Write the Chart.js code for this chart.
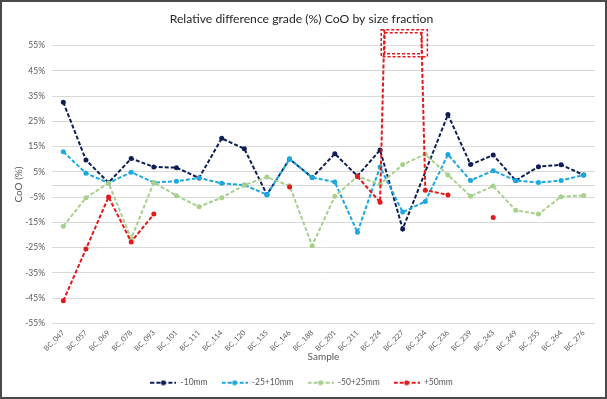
<!DOCTYPE html>
<html>
<head>
<meta charset="utf-8">
<script src="https://cdn.jsdelivr.net/npm/chart.js@4"></script>
<style>
  html, body { margin: 0; padding: 0; background: #fff; }
  #wrap { position: relative; width: 607px; height: 399px; }
  #frame {
    position: absolute; left: 0; top: 0; width: 607px; height: 399px;
    box-sizing: border-box; border: 2px solid #4a4a4a; pointer-events: none;
  }
</style>
</head>
<body>
<div id="wrap">
  <canvas id="grades" width="607" height="399"></canvas>
  <div id="frame"></div>
</div>
<script>
const samples = ['BC_047', 'BC_057', 'BC_069', 'BC_078', 'BC_093', 'BC_101', 'BC_111', 'BC_114',
  'BC_120', 'BC_135', 'BC_146', 'BC_188', 'BC_201', 'BC_211', 'BC_224', 'BC_227', 'BC_234',
  'BC_236', 'BC_239', 'BC_243', 'BC_249', 'BC_255', 'BC_264', 'BC_276'];

// BC_234 has no -10mm value (#N/A in the sheet), so the line just runs across it
const minus10 = [32.6, 9.7, 0.8, 10.3, 7.0, 6.7, 2.6, 18.3, 14.2, -4.0, 10.1, 2.8, 12.2, 3.4,
  13.7, -17.6, null, 27.7, 7.9, 11.7, 1.6, 7.1, 7.8, 3.8];
const minus25plus10 = [13.0, 4.5, 0.6, 4.9, 0.8, 1.3, 2.6, 0.5, -0.2, -4.0, 10.1, 2.8, 1.0, -18.9,
  7.0, -10.9, -6.7, 11.9, 1.6, 5.5, 1.6, 0.8, 1.6, 3.8];
const minus50plus25 = [-16.5, -5.2, 0.6, -21.4, 0.8, -4.4, -8.8, -5.2, -0.2, 3.0, -0.5, -24.2, -4.6,
  3.2, 0.1, 7.9, 12.0, 3.8, -4.6, -0.6, -10.2, -11.7, -4.8, -4.3];
const plus50 = [-46.0, -25.5, -4.9, -22.7, -11.7, null, null, null, null, null, -1.0, null, null,
  3.2, -7.0, 350, -2.2, -4.1, null, -13.0, null, null, null, null];

const seriesNames = ['-10mm', '-25+10mm', '-50+25mm', '+50mm'];
const seriesColors = ['#0f1f55', '#1ba8e0', '#a8d08d', '#e3191c'];
const yTicks = [-55, -45, -35, -25, -15, -5, 5, 15, 25, 35, 45, 55];

const FONT = 'Lato, "Open Sans", sans-serif';

// little dashed line with a dot, for the legend
function legendMark(color) {
  const c = document.createElement('canvas');
  c.width = 26;
  c.height = 6;
  const g = c.getContext('2d');
  g.strokeStyle = color;
  g.lineWidth = 2;
  g.setLineDash([4, 2]);
  g.beginPath();
  g.moveTo(0, 3);
  g.lineTo(26, 3);
  g.stroke();
  g.fillStyle = color;
  g.beginPath();
  g.arc(13, 3, 2.5, 0, Math.PI * 2);
  g.fill();
  return c;
}

const zeroLine = {
  id: 'zeroLine',
  beforeDatasetsDraw(chart) {
    const { ctx, chartArea: { left, right }, scales: { y } } = chart;
    const y0 = Math.round(y.getPixelForValue(0)) + 0.5;
    ctx.save();
    ctx.strokeStyle = '#d9d9d9';
    ctx.lineWidth = 1;
    ctx.beginPath();
    ctx.moveTo(left, y0);
    ctx.lineTo(right, y0);
    ctx.stroke();
    ctx.restore();
  },
};

// the +50mm outlier runs off the top of the plot; excel leaves a dashed box there
const overflowBox = {
  id: 'overflowBox',
  afterDatasetsDraw(chart) {
    const { ctx, chartArea: { top } } = chart;
    const pts = chart.getDatasetMeta(3).data;
    const i = plus50.indexOf(Math.max(...plus50.filter((v) => v !== null)));
    const a = pts[i - 1];
    const b = pts[i];
    const c = pts[i + 1];
    const yBot = top + 10;
    const yTop = top - 16;
    const xAt = (p, q, yy) => p.x + ((q.x - p.x) * (p.y - yy)) / (p.y - q.y);
    const xl = xAt(a, b, yBot);
    const xr = xAt(c, b, yBot);
    ctx.save();
    ctx.strokeStyle = seriesColors[3];
    ctx.lineWidth = 1.5;
    ctx.setLineDash([3, 2]);
    ctx.strokeRect(xl - 2.5, yTop, xr - xl + 8, yBot - yTop + 1);
    ctx.strokeRect(xl + 1, yTop + 3, xr - xl - 1, yBot - yTop - 5);
    ctx.restore();
  },
};

// later series sit on top, like in excel
const datasets = [minus10, minus25plus10, minus50plus25, plus50].map((values, k) => ({
  label: seriesNames[k],
  data: values,
  borderColor: seriesColors[k],
  backgroundColor: seriesColors[k],
  borderWidth: 2,
  borderDash: [4, 2],
  pointRadius: 2.5,
  pointBorderWidth: 0,
  pointHoverRadius: 2.5,
  tension: 0,
  spanGaps: k === 0,
  clip: k === 3 ? { left: 0, top: 16, right: 0, bottom: 0 } : 2,
  order: 4 - k,
}));

const options = {
  responsive: false,
  animation: false,
  events: [],
  layout: {
    padding: { left: 8, right: 12, top: 0, bottom: 2 },
  },
  plugins: {
    title: {
      display: true,
      text: 'Relative difference grade (%) CoO by size fraction',
      color: '#262626',
      font: { family: FONT, size: 12.2, weight: 'normal', lineHeight: 1.2 },
      padding: { top: 12, bottom: 19 },
    },
    legend: {
      position: 'bottom',
      labels: {
        color: '#595959',
        font: { family: FONT, size: 8.5 },
        usePointStyle: true,
        pointStyleWidth: 26,
        padding: 14,
        sort: (a, b) => a.datasetIndex - b.datasetIndex,
        generateLabels(chart) {
          return Chart.defaults.plugins.legend.labels.generateLabels(chart).map((item) => ({
            ...item,
            pointStyle: legendMark(seriesColors[item.datasetIndex]),
          }));
        },
      },
    },
    tooltip: { enabled: false },
  },
  scales: {
    x: {
      offset: true,
      grid: { display: false, drawTicks: false },
      border: { display: false },
      ticks: {
        color: '#595959',
        font: { family: FONT, size: 7.3 },
        autoSkip: false,
        minRotation: 45,
        maxRotation: 45,
        padding: 5,
      },
      title: {
        display: true,
        text: 'Sample',
        color: '#595959',
        font: { family: FONT, size: 10 },
        padding: { top: 0, bottom: 1.5 },
      },
      afterFit(scale) {
        scale.height = 41;
      },
    },
    y: {
      min: yTicks[0],
      max: yTicks[yTicks.length - 1],
      grid: { color: '#d9d9d9', drawTicks: false },
      border: { display: false },
      afterBuildTicks(scale) {
        scale.ticks = yTicks.map((v) => ({ value: v }));
      },
      ticks: {
        color: '#595959',
        font: { family: FONT, size: 8.5 },
        padding: 7,
        callback: (value) => `${value}%`,
      },
      title: {
        display: true,
        text: 'CoO (%)',
        color: '#595959',
        font: { family: FONT, size: 10 },
        padding: { top: 5, bottom: 0 },
      },
      afterFit(scale) {
        scale.width = 44;
      },
    },
  },
};

// eslint-disable-next-line no-unused-vars
const gradeChart = new Chart(document.getElementById('grades'), {
  type: 'line',
  data: { labels: samples, datasets },
  options,
  plugins: [zeroLine, overflowBox],
});
</script>
</body>
</html>
